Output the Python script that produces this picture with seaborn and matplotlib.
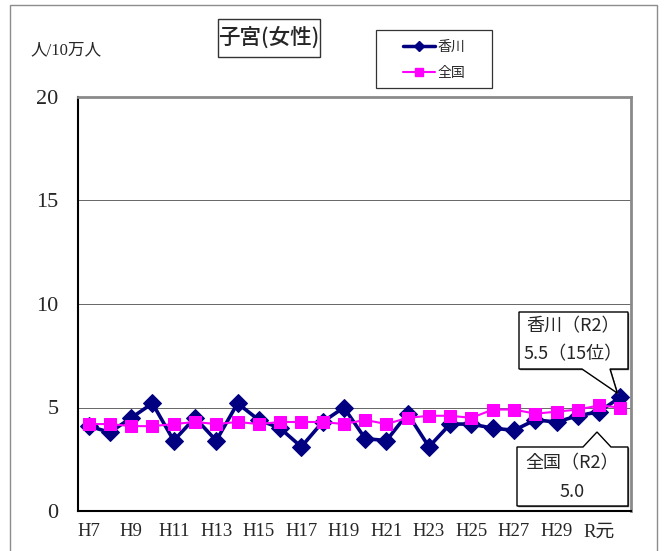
import numpy as np
import pandas as pd
import matplotlib
matplotlib.use("Agg")
import matplotlib.pyplot as plt
import seaborn as sns
from matplotlib.patches import Polygon, Rectangle
from matplotlib.lines import Line2D

# ---- data ----
years = ["H7", "H8", "H9", "H10", "H11", "H12", "H13", "H14", "H15", "H16",
         "H17", "H18", "H19", "H20", "H21", "H22", "H23", "H24", "H25", "H26",
         "H27", "H28", "H29", "H30", "R元", "R2"]
kagawa = [4.1, 3.8, 4.5, 5.2, 3.4, 4.5, 3.4, 5.2, 4.4, 4.0,
          3.1, 4.3, 5.0, 3.5, 3.4, 4.7, 3.1, 4.2, 4.2, 4.0,
          3.9, 4.4, 4.3, 4.6, 4.8, 5.5]
national = [4.2, 4.2, 4.1, 4.1, 4.2, 4.3, 4.2, 4.3, 4.2, 4.3,
            4.3, 4.3, 4.2, 4.4, 4.2, 4.5, 4.6, 4.6, 4.5, 4.9,
            4.9, 4.7, 4.8, 4.9, 5.1, 5.0]
series_names = ["香川", "全国"]
yticks = [0, 5, 10, 15, 20]
title = "子宮(女性)"
unit_label = "人/10万人"
callout_k = ["香川（R2）", "5.5（15位）"]
callout_n = ["全国（R2）", "5.0"]

NAVY = "#000080"
MAG = "#FF00FF"

sns.set_style("white")
SERIF = ["Liberation Serif", "Noto Sans CJK JP"]
SANS = ["Noto Sans CJK JP", "DejaVu Sans"]
plt.rcParams["font.family"] = SERIF

W, H = 664, 551
fig = plt.figure(figsize=(W / 100, H / 100), dpi=100)


def px(x, y):
    return (x / W, 1 - y / H)


# outer chart frame
fig.patches.append(Rectangle(px(10, 600), (657 - 10) / W, (600 - 5) / H,
                             transform=fig.transFigure, fill=False,
                             edgecolor="#8c8c8c", lw=1.0, clip_on=False))

left, top, right, bottom = 78, 97, 631, 511
ax = fig.add_axes([left / W, 1 - bottom / H, (right - left) / W, (bottom - top) / H])

idx = np.arange(len(years))
df_k = pd.DataFrame({"x": idx, "value": kagawa, "series": series_names[0]})
df_n = pd.DataFrame({"x": idx, "value": national, "series": series_names[1]})

sns.lineplot(data=df_k, x="x", y="value", ax=ax, color=NAVY, lw=2.6,
             marker="D", markersize=9.5, markeredgecolor=NAVY, markerfacecolor=NAVY,
             legend=False, zorder=3)
sns.lineplot(data=df_n, x="x", y="value", ax=ax, color=MAG, lw=1.5,
             marker="s", markersize=8, markeredgecolor=MAG, markerfacecolor=MAG,
             legend=False, zorder=4)

ax.set_xlim(-0.5, len(years) - 0.5)
ax.set_ylim(0, 20)
ax.set_xlabel("")
ax.set_ylabel("")

ax.set_yticks(yticks)
ax.set_yticklabels([str(v) for v in yticks], fontsize=16, family=SERIF)
ax.tick_params(axis="y", length=0, pad=14)

major = idx[::2]
ax.set_xticks(major)
ax.set_xticklabels([years[i] for i in major], fontsize=13.5, family=SERIF)
ax.set_xticks(idx[:-1] + 0.5, minor=True)
ax.tick_params(axis="x", which="major", length=0, pad=9)
ax.tick_params(axis="x", which="minor", direction="in", length=4.5,
               color="#777777", width=0.8)

ax.yaxis.grid(True, color="#666666", lw=0.7)
ax.xaxis.grid(False)
ax.set_axisbelow(True)

for s in ["left", "bottom"]:
    ax.spines[s].set_color("black")
    ax.spines[s].set_linewidth(1.5)
for s in ["top", "right"]:
    ax.spines[s].set_color("#8a8a8a")
    ax.spines[s].set_linewidth(2.0)

# unit label
fig.text(*px(66, 50), unit_label, ha="center", va="center", fontsize=12, family=SERIF)

# title box
fig.patches.append(Rectangle(px(218, 57), 102 / W, 38 / H, transform=fig.transFigure,
                             fill=True, facecolor="white", edgecolor="#333333", lw=1.0))
fig.text(*px(269, 38), title, ha="center", va="center", fontsize=15.5,
         family=SANS, fontweight="medium")

# legend (frame drawn separately)
fig.patches.append(Rectangle(px(376, 88), 116 / W, 58 / H, transform=fig.transFigure,
                             fill=True, facecolor="white", edgecolor="#333333", lw=0.9))
handles = [Line2D([], [], color=NAVY, lw=2.5, marker="D", markersize=5),
           Line2D([], [], color=MAG, lw=1.5, marker="s", markersize=5.5)]
leg = fig.legend(handles, series_names, loc="center", bbox_to_anchor=px(434, 60),
                 frameon=False, prop={"family": SANS, "size": 10},
                 handlelength=2.3, handletextpad=0.2, labelspacing=0.85)

# callouts
fig.canvas.draw()
tipx, tipy = ax.transData.transform((idx[-1], kagawa[-1]))
tip_k = (tipx - 3, H - tipy - 4)


def callout(points):
    verts = [px(*p) for p in points]
    shadow = [(v[0] + 1.2 / W, v[1] - 1.2 / H) for v in verts]
    fig.patches.append(Polygon(shadow, closed=True, transform=fig.transFigure,
                               facecolor="#555555", edgecolor="none", zorder=5))
    fig.patches.append(Polygon(verts, closed=True, transform=fig.transFigure,
                               facecolor="white", edgecolor="black", lw=1.0, zorder=6))


callout([(519, 312), (628, 312), (628, 369), (610, 369), tip_k, (582, 369), (519, 369)])
fig.text(*px(573, 326), callout_k[0], ha="center", va="center", fontsize=13, family=SANS, zorder=7)
fig.text(*px(573, 354), callout_k[1], ha="center", va="center", fontsize=13, family=SANS, zorder=7)

callout([(517, 447), (583, 447), (597, 432), (611, 447), (628, 447), (628, 506), (517, 506)])
fig.text(*px(572, 463), callout_n[0], ha="center", va="center", fontsize=13, family=SANS, zorder=7)
fig.text(*px(572, 492), callout_n[1], ha="center", va="center", fontsize=13, family=SANS, zorder=7)

fig.savefig("out.png", dpi=100)
